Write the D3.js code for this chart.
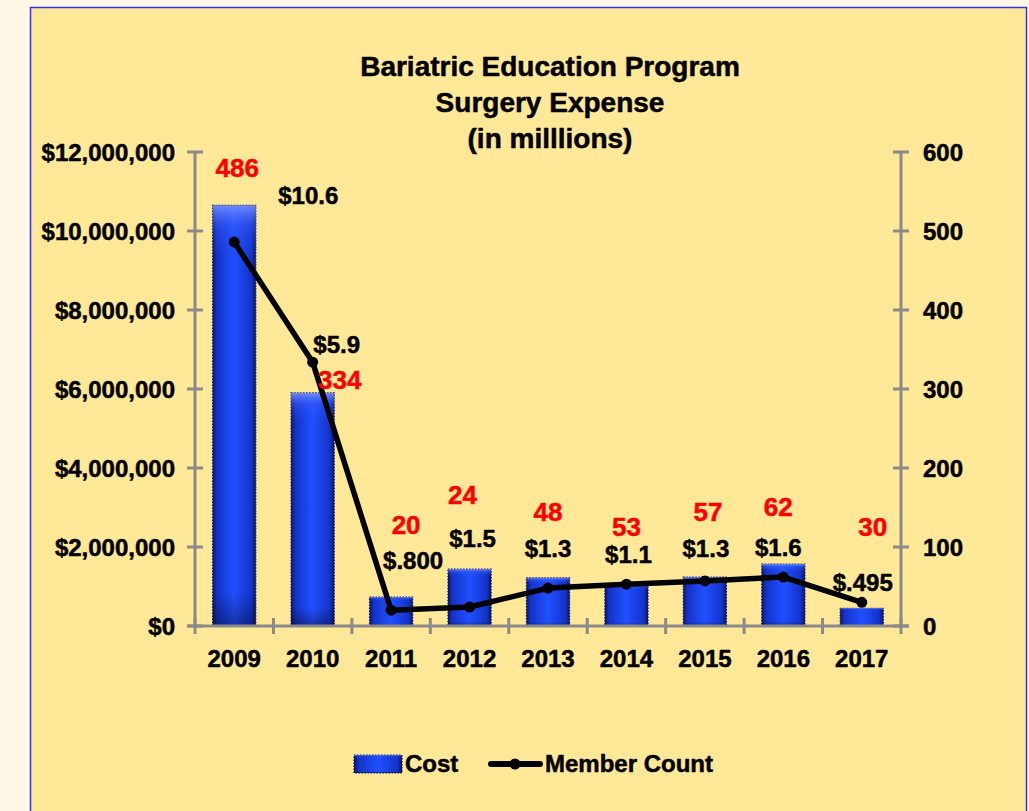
<!DOCTYPE html>
<html><head><meta charset="utf-8">
<script src="https://cdn.jsdelivr.net/npm/d3@7"></script>
<style>html,body{margin:0;padding:0;background:#FFF8E6;}svg{display:block;}</style>
</head><body>
<script>
const years = ["2009","2010","2011","2012","2013","2014","2015","2016","2017"];
const cost = [10650000, 5900000, 730000, 1440000, 1220000, 1050000, 1240000, 1570000, 450000];
const costLabels = ["$10.6","$5.9","$.800","$1.5","$1.3","$1.1","$1.3","$1.6","$.495"];
const members = [486, 334, 20, 24, 48, 53, 57, 62, 30];
const leftTicks = [0, 2000000, 4000000, 6000000, 8000000, 10000000, 12000000];
const rightTicks = [0, 100, 200, 300, 400, 500, 600];
const titleLines = ["Bariatric Education Program", "Surgery Expense", "(in milllions)"];
const seriesNames = ["Cost", "Member Count"];
// label offsets (layout only), relative to bar top / line point
const costLabelOff = [[74,-1],[24,-40],[22,-28],[3,-22],[0,-21],[2,-22],[1,-20],[-5,-8],[1,-17]];
const countLabelOff = [[3,-65],[27,27],[15,-76],[-7,-103],[0,-67],[0,-48],[3,-60],[-5,-61],[11,-66]];

const W = 1029, H = 811;
const svg = d3.select("body").append("svg").attr("width", W).attr("height", H);
const defs = svg.append("defs");
const g1 = defs.append("linearGradient").attr("id","barH").attr("x1","0").attr("x2","1").attr("y1","0").attr("y2","0");
[[0,"#081670"],[0.1,"#1433c8"],[0.5,"#2050ff"],[0.9,"#1433c8"],[1,"#081670"]].forEach(s=>g1.append("stop").attr("offset",s[0]).attr("stop-color",s[1]));
const g2 = defs.append("linearGradient").attr("id","barV").attr("x1","0").attr("x2","0").attr("y1","0").attr("y2","1");
[[0,"#7d96ff",0.85],[0.05,"#3a60ff",0.4],[0.12,"#2a55ff",0],[0.92,"#000",0],[1,"#000",0.35]].forEach(s=>g2.append("stop").attr("offset",s[0]).attr("stop-color",s[1]).attr("stop-opacity",s[2]));

svg.append("rect").attr("x",30.5).attr("y",7.5).attr("width",996).attr("height",820)
  .attr("fill","#FFE999").attr("stroke","#3030ff").attr("stroke-width",1.5);

const x0 = 195, x1 = 901, yTop = 152, yBot = 626;
const x = d3.scaleBand().domain(years).range([x0, x1]).paddingInner(0.45).paddingOuter(0.225);
const xc = d => x(d) + x.bandwidth()/2;
const yL = d3.scaleLinear().domain([0, 12000000]).range([yBot, yTop]);
const yR = d3.scaleLinear().domain([0, 600]).range([yBot, yTop]);

const font = "'Liberation Sans', Arial, sans-serif";
function heavy(sel){ return sel.attr("font-family",font).attr("font-weight","bold").attr("stroke-width",0.5).attr("stroke-linejoin","round"); }

// title
heavy(svg.append("g").selectAll("text").data(titleLines).join("text")
  .attr("x", 550).attr("y", (d,i)=> 76 + i*36).attr("text-anchor","middle")
  .attr("font-size", 28).attr("fill","#000").attr("stroke","#000")).text(d=>d);

// bars
const bars = svg.append("g");
years.forEach((yr,i)=>{
  const bx = x(yr), bw = x.bandwidth(), by = yL(cost[i]), bh = yBot - yL(cost[i]);
  bars.append("rect").attr("x",bx).attr("y",by).attr("width",bw).attr("height",bh).attr("fill","url(#barH)")
    .attr("stroke","#0a1040").attr("stroke-width",1.2).attr("stroke-dasharray","1.5,1.5");
  bars.append("rect").attr("x",bx).attr("y",by).attr("width",bw).attr("height",bh).attr("fill","url(#barV)");
});

// axes
const axisColor = "#8a8a8a";
const ax = svg.append("g").attr("stroke", axisColor).attr("stroke-width", 3);
ax.append("line").attr("x1",x0).attr("x2",x0).attr("y1",yTop).attr("y2",yBot);
ax.append("line").attr("x1",x1).attr("x2",x1).attr("y1",yTop).attr("y2",yBot);
ax.append("line").attr("x1",x0-8).attr("x2",x1+8).attr("y1",yBot).attr("y2",yBot);
leftTicks.forEach(t=>ax.append("line").attr("x1",x0-8).attr("x2",x0+8).attr("y1",yL(t)).attr("y2",yL(t)));
rightTicks.forEach(t=>ax.append("line").attr("x1",x1-8).attr("x2",x1+8).attr("y1",yR(t)).attr("y2",yR(t)));
const step = (x1-x0)/years.length;
d3.range(years.length+1).forEach(i=>ax.append("line").attr("x1",x0+i*step).attr("x2",x0+i*step).attr("y1",yBot-8).attr("y2",yBot+8));

const fmt = d3.format("$,");
heavy(svg.append("g").selectAll("text").data(leftTicks).join("text")
  .attr("x", 175).attr("y", d=>yL(d)+8.5).attr("text-anchor","end").attr("stroke","#000")
  .attr("font-size",24)).text(d=>fmt(d));
heavy(svg.append("g").selectAll("text").data(rightTicks).join("text")
  .attr("x", 923).attr("y", d=>yR(d)+8.5).attr("text-anchor","start").attr("stroke","#000")
  .attr("font-size",24)).text(d=>d);
heavy(svg.append("g").selectAll("text").data(years).join("text")
  .attr("x", d=>xc(d)).attr("y", 667).attr("text-anchor","middle").attr("stroke","#000")
  .attr("font-size",24)).text(d=>d);

// line
const line = d3.line().x((d,i)=>xc(years[i])).y(d=>yR(d));
svg.append("path").datum(members).attr("d",line).attr("fill","none").attr("stroke","#000").attr("stroke-width",5.5).attr("stroke-linejoin","round");
svg.append("g").selectAll("circle").data(members).join("circle")
  .attr("cx",(d,i)=>xc(years[i])).attr("cy",d=>yR(d)).attr("r",5.5).attr("fill","#000");

// labels
heavy(svg.append("g").selectAll("text").data(members).join("text")
  .attr("x",(d,i)=>xc(years[i]) + countLabelOff[i][0]).attr("y",(d,i)=>yR(d) + countLabelOff[i][1])
  .attr("text-anchor","middle").attr("font-size",26).attr("fill","#ff0000").attr("stroke","#ff0000")).text(d=>d);
heavy(svg.append("g").selectAll("text").data(costLabels).join("text")
  .attr("x",(d,i)=>xc(years[i]) + costLabelOff[i][0]).attr("y",(d,i)=>yL(cost[i]) + costLabelOff[i][1])
  .attr("text-anchor","middle").attr("font-size",24).attr("fill","#000").attr("stroke","#000")).text(d=>d);

// legend
const lg = svg.append("g");
lg.append("rect").attr("x",354).attr("y",755).attr("width",48).attr("height",18).attr("fill","url(#barH)")
  .attr("stroke","#0a1040").attr("stroke-width",1.2).attr("stroke-dasharray","1.5,1.5");
lg.append("rect").attr("x",354).attr("y",755).attr("width",48).attr("height",18).attr("fill","url(#barV)");
heavy(lg.append("text").attr("x",405).attr("y",772).attr("font-size",24).attr("stroke","#000")).text(seriesNames[0]);
lg.append("line").attr("x1",491).attr("x2",540).attr("y1",764).attr("y2",764).attr("stroke","#000").attr("stroke-width",6).attr("stroke-linecap","round");
lg.append("circle").attr("cx",515).attr("cy",764).attr("r",5.5).attr("fill","#000");
heavy(lg.append("text").attr("x",545).attr("y",772).attr("font-size",24).attr("stroke","#000")).text(seriesNames[1]);
</script>
</body></html>
